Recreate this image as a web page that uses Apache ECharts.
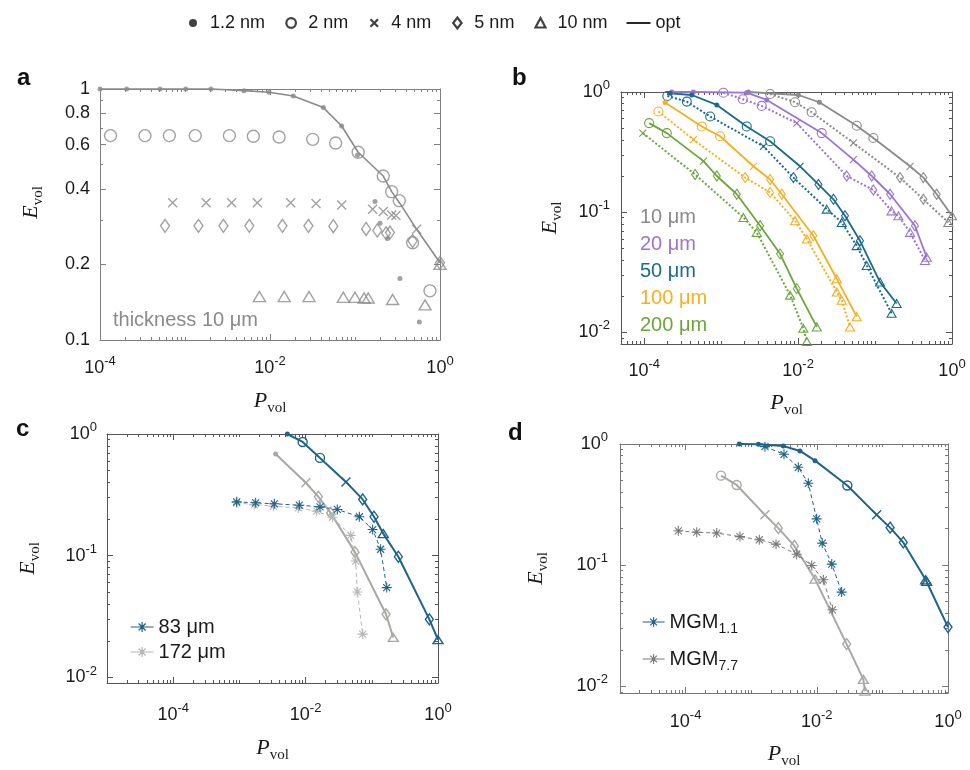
<!DOCTYPE html>
<html><head><meta charset="utf-8">
<script src="https://cdn.jsdelivr.net/npm/echarts@6/dist/echarts.min.js"></script>
<style>html,body{margin:0;padding:0;background:#fff}#c{width:970px;height:770px}</style>
</head><body><div id="c"></div>
<script>
// ---------- tick labels ----------
const aXTicks = [1e-4, 1e-2, 1];
const aYTicks = [0.1, 0.2, 0.4, 0.6, 0.8, 1];
const bXTicks = [1e-4, 1e-2, 1];
const bYTicks = [0.01, 0.1, 1];
const cdXTicks = [1e-4, 1e-2, 1];
const cdYTicks = [0.01, 0.1, 1];

// ---------- panel a (thickness 10 um) ----------
const a12X = [1e-4, 2.06e-4, 5.08e-4, 1.02e-3, 2.02e-3, 4.94e-3, 9.73e-3, 0.0188, 0.0424, 0.0697, 0.107, 0.172, 0.197, 0.242, 0.338, 0.571];
const a12Y = [1, 1, 1, 1, 1, 0.985, 0.97, 0.938, 0.843, 0.712, 0.546, 0.356, 0.292, 0.254, 0.176, 0.118];
const a2X = [1.33e-4, 3.38e-4, 6.55e-4, 1.32e-3, 3.33e-3, 6.37e-3, 0.0128, 0.0318, 0.0592, 0.109, 0.215, 0.27, 0.332, 0.476, 0.762];
const a2Y = [0.652, 0.652, 0.652, 0.652, 0.652, 0.648, 0.644, 0.630, 0.609, 0.560, 0.45, 0.39, 0.359, 0.244, 0.157];
const a4X = [7.16e-4, 1.77e-3, 3.54e-3, 7.1e-3, 0.0175, 0.0348, 0.0697, 0.161, 0.215, 0.27, 0.303, 0.531];
const a4Y = [0.352, 0.352, 0.352, 0.352, 0.352, 0.35, 0.345, 0.332, 0.325, 0.315, 0.313, 0.276];
const a5X = [5.82e-4, 1.44e-3, 2.83e-3, 5.71e-3, 0.014, 0.0283, 0.0556, 0.135, 0.183, 0.232, 0.258, 0.476, 1];
const a5Y = [0.285, 0.285, 0.285, 0.285, 0.285, 0.285, 0.284, 0.277, 0.273, 0.266, 0.268, 0.248, 0.203];
const a10X = [7.5e-3, 0.0147, 0.0288, 0.0729, 0.1, 0.128, 0.143, 0.277, 0.667, 1];
const a10Y = [0.149, 0.149, 0.149, 0.148, 0.148, 0.147, 0.147, 0.145, 0.138, 0.2];
const aOptX = [1e-4, 2.02e-3, 4.94e-3, 9.73e-3, 0.0188, 0.0424, 0.0697, 0.109, 0.215, 0.27, 0.338, 0.531, 1];
const aOptY = [1, 1, 0.985, 0.97, 0.938, 0.843, 0.712, 0.56, 0.45, 0.39, 0.35, 0.276, 0.203];

// ---------- panel b (pore-size code per point: 1.2, 2, 4, 5, 10 nm) ----------
const bThick = ['10 μm', '20 μm', '50 μm', '100 μm', '200 μm'];
const b10OptX = [2.26e-3, 0.0101, 0.0189, 0.0578, 0.0951, 0.285, 0.425, 0.632, 1];
const b10OptY = [1, 0.944, 0.822, 0.524, 0.414, 0.241, 0.194, 0.141, 0.0933];
const b10OptP = [1.2, 1.2, 1.2, 2, 2, 4, 5, 5, 10];
const b10DotX = [4.33e-3, 9.14e-3, 0.015, 0.0523, 0.211, 0.425, 0.895];
const b10DotY = [0.963, 0.822, 0.679, 0.377, 0.194, 0.128, 0.0822];
const b10DotP = [2, 2, 2, 4, 5, 5, 10];
const b20OptX = [2.29e-4, 4.37e-4, 2.15e-3, 3.92e-3, 0.0203, 0.0523, 0.0906, 0.157, 0.33, 0.469];
const b20OptY = [1, 1, 0.987, 0.859, 0.455, 0.274, 0.2, 0.141, 0.0771, 0.0422];
const b20OptP = [1.2, 1.2, 1.2, 1.2, 2, 4, 5, 5, 5, 10];
const b20DotX = [1.07e-3, 1.91e-3, 3.37e-3, 9.61e-3, 0.0428, 0.0951, 0.164, 0.201, 0.285, 0.446];
const b20DotY = [0.987, 0.87, 0.766, 0.551, 0.2, 0.153, 0.1025, 0.0933, 0.0679, 0.0396];
const b20DotP = [2, 2, 2, 4, 5, 5, 10, 10, 10, 10];
const b50OptX = [2.18e-4, 4.16e-4, 8.79e-4, 2.15e-3, 4.33e-3, 0.0106, 0.0184, 0.0288, 0.0407, 0.0638, 0.116, 0.191];
const b50OptY = [0.975, 0.944, 0.781, 0.517, 0.389, 0.241, 0.17, 0.128, 0.0933, 0.0578, 0.0262, 0.0174];
const b50OptP = [1.2, 1.2, 1.2, 2, 2, 4, 5, 5, 5, 5, 10, 10];
const b50DotX = [2.0e-4, 3.58e-4, 7.2e-4, 3.55e-3, 8.69e-3, 0.0236, 0.0369, 0.0578, 0.078, 0.164];
const b50DotY = [0.927, 0.832, 0.625, 0.353, 0.194, 0.106, 0.0822, 0.0527, 0.036, 0.0144];
const b50DotP = [2, 2, 2, 4, 5, 10, 10, 10, 10, 10];
const b100OptX = [1.87e-4, 5.61e-4, 9.7e-4, 2.63e-3, 4.33e-3, 6.14e-3, 0.0158, 0.0318, 0.0578];
const b100OptY = [0.816, 0.517, 0.428, 0.241, 0.187, 0.141, 0.0637, 0.0279, 0.0135];
const b100OptP = [1.2, 2, 2, 4, 5, 5, 5, 10, 10];
const b100DotX = [1.53e-4, 4.37e-4, 2.05e-3, 4.33e-3, 9.14e-3, 0.013, 0.0318, 0.0369, 0.0473];
const b100DotY = [0.688, 0.401, 0.194, 0.146, 0.0848, 0.0598, 0.0217, 0.0185, 0.0111];
const b100DotP = [2, 4, 5, 5, 10, 10, 10, 10, 10];
const b200OptX = [1.16e-4, 1.97e-4, 5.9e-4, 8.79e-4, 1.6e-3, 3.21e-3, 5.83e-3, 9.61e-3, 0.0175];
const b200OptY = [0.551, 0.455, 0.266, 0.2, 0.141, 0.0771, 0.045, 0.0231, 0.0111];
const b200OptP = [2, 2, 4, 5, 5, 5, 5, 5, 10];
const b200DotX = [9.6e-5, 4.59e-4, 1.95e-3, 2.9e-3, 7.87e-3, 0.0117, 0.013];
const b200DotY = [0.455, 0.206, 0.0903, 0.0679, 0.0204, 0.0108, 0.0084];
const b200DotP = [4, 5, 10, 10, 10, 10, 10];

// ---------- panel c ----------
const cTealOptX = [5.3e-3, 9.03e-3, 0.0165, 0.0407, 0.0728, 0.108, 0.149, 0.252, 0.740, 1];
const cTealOptY = [1, 0.86, 0.636, 0.404, 0.29, 0.209, 0.152, 0.098, 0.030, 0.0204];
const cTealOptP = [1.2, 2, 2, 4, 5, 5, 10, 5, 5, 10];
const cTealStarX = [9.1e-4, 1.76e-3, 3.37e-3, 8.03e-3, 0.0165, 0.0301, 0.0649, 0.103, 0.136, 0.168];
const cTealStarY = [0.277, 0.272, 0.267, 0.26, 0.252, 0.24, 0.209, 0.164, 0.113, 0.0547];
const cGrayOptX = [3.53e-3, 0.0101, 0.0156, 0.0239, 0.0557, 0.164, 0.211];
const cGrayOptY = [0.686, 0.397, 0.305, 0.225, 0.107, 0.033, 0.0213];
const cGrayOptP = [1.2, 4, 5, 5, 5, 5, 10];
const cGrayStarX = [9.1e-4, 1.68e-3, 3.26e-3, 7.76e-3, 0.0147, 0.0254, 0.048, 0.057, 0.0604, 0.0728];
const cGrayStarY = [0.272, 0.263, 0.255, 0.247, 0.232, 0.207, 0.147, 0.0904, 0.0504, 0.0227];

// ---------- panel d ----------
const dTealOptX = [6.59e-4, 1.29e-3, 3.09e-3, 5.54e-3, 9.4e-3, 0.0292, 0.0818, 0.131, 0.208, 0.457, 0.473, 1];
const dTealOptY = [1, 0.994, 0.963, 0.876, 0.729, 0.454, 0.26, 0.204, 0.154, 0.0757, 0.0733, 0.0308];
const dTealOptP = [1.2, 1.2, 1.2, 1.2, 1.2, 2, 4, 5, 5, 10, 10, 5];
const dTealStarX = [1.62e-3, 3.16e-3, 5.22e-3, 7.43e-3, 9.95e-3, 0.0121, 0.0169, 0.0239];
const dTealStarY = [0.951, 0.822, 0.642, 0.474, 0.241, 0.152, 0.102, 0.0599];
const dGrayOptX = [3.47e-4, 6.0e-4, 1.62e-3, 2.59e-3, 4.55e-3, 9.4e-3, 0.0285, 0.0512, 0.0543];
const dGrayOptY = [0.548, 0.459, 0.26, 0.202, 0.144, 0.0767, 0.0223, 0.0114, 0.0091];
const dGrayOptP = [2, 2, 4, 5, 5, 10, 5, 10, 10];
const dGrayStarX = [7.74e-5, 1.48e-4, 2.98e-4, 6.74e-4, 1.33e-3, 2.39e-3, 4.93e-3, 8.36e-3, 0.0126, 0.0173];
const dGrayStarY = [0.192, 0.187, 0.184, 0.172, 0.162, 0.149, 0.123, 0.0994, 0.0757, 0.0428];

// ---------- styling ----------
const SANS = '"Liberation Sans", Arial, Helvetica, sans-serif';
const SERIF = '"Liberation Serif", "DejaVu Serif", "Times New Roman", serif';
const TXT = '#1a1a1a';
const COL = {gray:'#8a8a8a', purple:'#9a74d2', teal:'#1a6a8c', orange:'#f4b022', green:'#6ba53c',
  cTeal:'#1d6488', cGray:'#aaa8a4', cStar:'#b5b5b5', dStar:'#7a7a7a'};
const bColors = [COL.gray, COL.purple, COL.teal, COL.orange, COL.green];
const CROSS = 'path://M0,0L10,10M10,0L0,10';
const STAR = 'path://M5,0L5,10M0,5L10,5M1.5,1.5L8.5,8.5M8.5,1.5L1.5,8.5';
const STAR_LINE = 'path://M0,5L23,5M11.5,0L11.5,10M6.5,5L16.5,5M8,1.5L15,8.5M15,1.5L8,8.5';
const NONE = 'rgba(0,0,0,0)';

const SA = {dot:5, circ:12, cross:9, dia:[9,13], tri:[12,10], star:10, bw:1.4};
const SB = {dot:5, circ:9, cross:7, dia:[7,10], tri:[9,8], star:9, bw:1.1};
const SC = {dot:5, circ:9, cross:9, dia:[8,11], tri:[10,8], star:10, bw:1.4};

function marker(code, color, S) {
  const hollow = {color: NONE, borderColor: color, borderWidth: S.bw};
  if (code === 1.2) return {symbol:'circle', symbolSize:S.dot, itemStyle:{color, borderWidth:0}};
  if (code === 2) return {symbol:'circle', symbolSize:S.circ, itemStyle:hollow};
  if (code === 4) return {symbol:CROSS, symbolSize:S.cross, itemStyle:hollow};
  if (code === 5) return {symbol:'diamond', symbolSize:S.dia, itemStyle:hollow};
  if (code === 10) return {symbol:'triangle', symbolSize:S.tri, itemStyle:hollow};
  return {symbol:STAR, symbolSize:S.star, itemStyle:{color:NONE, borderColor:color, borderWidth:1.1}};
}
function pts(xs, ys, codes, color, S) {
  return xs.map((x, i) => Object.assign({value:[x, ys[i]]},
    marker(Array.isArray(codes) ? codes[i] : codes, color, S)));
}

function minorTicks(min, max, major) {
  const out = [];
  for (let e = Math.floor(Math.log10(min)); e <= Math.ceil(Math.log10(max)); e++) {
    for (let k = 1; k <= 9; k++) {
      const v = +(k * Math.pow(10, e)).toPrecision(3);
      if (v > min * 1.0001 && v < max * 0.9999 && major.every(m => Math.abs(m - v) > v * 1e-6)) out.push(v);
    }
  }
  return out;
}
const RICH_POW = {
  b:{fontFamily:SANS, fontSize:18, lineHeight:26, color:TXT},
  s:{fontFamily:SANS, fontSize:13, lineHeight:13, padding:[0,0,13,0], color:TXT}
};
const RICH_NAME = {
  P:{fontFamily:SERIF, fontStyle:'italic', fontSize:22, lineHeight:26, color:TXT},
  v:{fontFamily:SERIF, fontSize:15, lineHeight:15, padding:[15,0,0,0], color:TXT}
};
function powLabel(v) { return '{b|10}{s|' + Math.round(Math.log10(v)) + '}'; }
function numLabel(v) { return String(+(+v).toPrecision(2)); }

function buildAxes(dim, gridIndex, min, max, major, cfg) {
  const minor = minorTicks(min, max, major);
  const pos = dim === 'x' ? ['bottom', 'top'] : ['left', 'right'];
  const lc = cfg.color;
  const common = {type:'log', logBase:10, gridIndex, min, max, splitLine:{show:false},
    minorTick:{show:false}, minorSplitLine:{show:false}, silent:true};
  const line = {show:true, onZero:false, lineStyle:{color:lc, width:1}};
  const noLine = {show:false, onZero:false};
  const majTick = {show:true, inside:true, length:6, customValues:major, lineStyle:{color:lc, width:1}};
  const minTick = {show:true, inside:true, length:3, customValues:minor, lineStyle:{color:lc, width:1}};
  const off = {show:false};
  return [
    Object.assign({}, common, {position:pos[0], axisLine:line, axisTick:majTick,
      axisLabel:{show:true, customValues:major, margin:cfg.margin, formatter:cfg.fmt, rich:RICH_POW,
        fontFamily:SANS, fontSize:18, color:TXT},
      name:cfg.name, nameLocation:'middle', nameGap:cfg.nameGap, nameRotate: dim === 'y' ? 90 : 0,
      nameTextStyle:{rich:RICH_NAME, padding: cfg.namePad || 0}}),
    Object.assign({}, common, {position:pos[0], axisLine:noLine, axisTick:minTick, axisLabel:off}),
    Object.assign({}, common, {position:pos[1], axisLine:line, axisTick:majTick, axisLabel:off}),
    Object.assign({}, common, {position:pos[1], axisLine:noLine, axisTick:minTick, axisLabel:off})
  ];
}
const XN = '{P|P}{v|vol}', YN = '{P|E}{v|vol}';
const xAxes = [].concat(
  buildAxes('x', 0, 1e-4, 1, aXTicks, {color:'#7f7f7f', margin:15, fmt:powLabel, name:XN, nameGap:48}),
  buildAxes('x', 1, 5e-5, 1, bXTicks, {color:'#555', margin:14, fmt:powLabel, name:XN, nameGap:46}),
  buildAxes('x', 2, 1e-5, 1, cdXTicks, {color:'#555', margin:19, fmt:powLabel, name:XN, nameGap:52}),
  buildAxes('x', 3, 1e-5, 1, cdXTicks, {color:'#777', margin:16, fmt:powLabel, name:XN, nameGap:48})
);
const yAxes = [].concat(
  buildAxes('y', 0, 0.1, 1, aYTicks, {color:'#7f7f7f', margin:10, fmt:numLabel, name:YN, nameGap:56, namePad:[0,0,0,24]}),
  buildAxes('y', 1, 0.008, 1, bYTicks, {color:'#555', margin:11, fmt:powLabel, name:YN, nameGap:58}),
  buildAxes('y', 2, 0.009, 1, cdYTicks, {color:'#555', margin:10, fmt:powLabel, name:YN, nameGap:66}),
  buildAxes('y', 3, 0.0088, 1, cdYTicks, {color:'#777', margin:12, fmt:powLabel, name:YN, nameGap:71})
);

const series = [];
function scat(name, p, xs, ys, code, color, S) {
  series.push({name, type:'scatter', xAxisIndex:p*4, yAxisIndex:p*4, data:pts(xs, ys, code, color, S),
    itemStyle:{color:NONE, borderColor:color}, emphasis:{disabled:true}, clip:false, z:4});
}
function line(name, p, xs, ys, codes, color, S, ls, opts) {
  series.push(Object.assign({name, type:'line', xAxisIndex:p*4, yAxisIndex:p*4,
    data:pts(xs, ys, codes, color, S), showSymbol:true, clip:false,
    lineStyle:Object.assign({color, width:1.8}, ls), emphasis:{disabled:true}, z:3}, opts || {}));
}
// panel a
line('opt', 0, aOptX, aOptY, 1.2, COL.gray, {dot:0}, {width:1.6}, {showSymbol:false, symbol:'none', itemStyle:{color:COL.gray}});
scat('1.2 nm', 0, a12X, a12Y, 1.2, COL.gray, SA);
scat('2 nm', 0, a2X, a2Y, 2, COL.gray, SA);
scat('4 nm', 0, a4X, a4Y, 4, COL.gray, SA);
scat('5 nm', 0, a5X, a5Y, 5, COL.gray, SA);
scat('10 nm', 0, a10X, a10Y, 10, COL.gray, SA);
// panel b
const bOpt = [[b10OptX,b10OptY,b10OptP],[b20OptX,b20OptY,b20OptP],[b50OptX,b50OptY,b50OptP],[b100OptX,b100OptY,b100OptP],[b200OptX,b200OptY,b200OptP]];
const bDot = [[b10DotX,b10DotY,b10DotP],[b20DotX,b20DotY,b20DotP],[b50DotX,b50DotY,b50DotP],[b100DotX,b100DotY,b100DotP],[b200DotX,b200DotY,b200DotP]];
bThick.forEach((t, i) => {
  line('b ' + t + ' data', 1, bDot[i][0], bDot[i][1], bDot[i][2], bColors[i], SB, {type:'dotted', width:2});
  line('b ' + t + ' opt', 1, bOpt[i][0], bOpt[i][1], bOpt[i][2], bColors[i], SB, {width:1.8});
});
// panel c
line('c 172 opt', 2, cGrayOptX, cGrayOptY, cGrayOptP, COL.cGray, SC, {width:2});
line('172 μm', 2, cGrayStarX, cGrayStarY, 'star', COL.cStar, SC, {width:1, type:[4,3]});
line('c 83 opt', 2, cTealOptX, cTealOptY, cTealOptP, COL.cTeal, SC, {width:2});
line('83 μm', 2, cTealStarX, cTealStarY, 'star', COL.cTeal, SC, {width:1, type:[4,3]});
// panel d
line('d gray opt', 3, dGrayOptX, dGrayOptY, dGrayOptP, COL.cGray, SC, {width:2});
line('MGM7.7', 3, dGrayStarX, dGrayStarY, 'star', COL.dStar, SC, {width:1, type:[4,3]});
line('d teal opt', 3, dTealOptX, dTealOptY, dTealOptP, COL.cTeal, SC, {width:2});
line('MGM1.1', 3, dTealStarX, dTealStarY, 'star', COL.cTeal, SC, {width:1, type:[4,3]});

const hollowK = {color:NONE, borderColor:'#111', borderWidth:2.2};
function starItem(name, color) {
  return {name, icon:STAR_LINE, itemStyle:{color:NONE, borderColor:color, borderWidth:1.2}};
}
const option = {
  animation:false,
  backgroundColor:'#fff',
  textStyle:{fontFamily:SANS},
  grid:[
    {left:100, top:89, width:340, height:251},
    {left:621, top:92, width:331, height:252},
    {left:107, top:434, width:331, height:249},
    {left:620, top:444, width:328, height:250}
  ],
  xAxis:xAxes,
  yAxis:yAxes,
  legend:[
    {left:182, top:9, itemWidth:24, itemHeight:12, itemGap:19, selectedMode:false,
     textStyle:{fontFamily:SANS, fontSize:18, color:TXT},
     data:[
      {name:'1.2 nm', icon:'path://M0,0M12,12M2,6a4,4 0 1,0 8,0a4,4 0 1,0 -8,0z', itemStyle:{color:'#111', borderWidth:0}},
      {name:'2 nm', icon:'path://M0,0M12,12M1.2,6a4.8,4.8 0 1,0 9.6,0a4.8,4.8 0 1,0 -9.6,0z', itemStyle:hollowK},
      {name:'4 nm', icon:'path://M0,0M12,12M2.2,2.2L9.8,9.8M9.8,2.2L2.2,9.8', itemStyle:hollowK},
      {name:'5 nm', icon:'path://M0,0M12,12M6,0.5L10.2,6L6,11.5L1.8,6Z', itemStyle:hollowK},
      {name:'10 nm', icon:'path://M0,0M12,12M6,1L11,10.5L1,10.5Z', itemStyle:hollowK},
      {name:'opt', icon:'path://M0,0M24,12M0,5.1L24,5.1L24,6.9L0,6.9Z', itemStyle:{color:'#111', borderWidth:0}}
     ]},
    {left:125, top:612, orient:'vertical', itemWidth:23, itemHeight:10, itemGap:5, selectedMode:false,
     textStyle:{fontFamily:SANS, fontSize:20, color:TXT},
     data:[starItem('83 μm', COL.cTeal), starItem('172 μm', COL.cStar)]},
    {left:637, top:603, orient:'vertical', itemWidth:22, itemHeight:10, itemGap:9, selectedMode:false,
     textStyle:{fontFamily:SANS, fontSize:20, color:TXT,
       rich:{s:{fontFamily:SANS, fontSize:14, lineHeight:14, padding:[14,0,0,0], color:TXT}}},
     formatter: n => 'MGM{s|' + n.slice(3) + '}',
     data:[starItem('MGM1.1', COL.cTeal), starItem('MGM7.7', COL.dStar)]}
  ],
  graphic:[
    {type:'text', x:17, y:66, style:{text:'a', fontFamily:SANS, fontWeight:'bold', fontSize:24, fill:'#111'}},
    {type:'text', x:512, y:66, style:{text:'b', fontFamily:SANS, fontWeight:'bold', fontSize:24, fill:'#111'}},
    {type:'text', x:16, y:417, style:{text:'c', fontFamily:SANS, fontWeight:'bold', fontSize:24, fill:'#111'}},
    {type:'text', x:508, y:421, style:{text:'d', fontFamily:SANS, fontWeight:'bold', fontSize:24, fill:'#111'}},
    {type:'text', x:113, y:320, style:{text:'thickness 10 μm', fontFamily:SANS, fontSize:20, fill:COL.gray, verticalAlign:'middle'}}
  ].concat(bThick.map((t, i) => ({type:'text', x:640, y:217 + i * 27,
      style:{text:t, fontFamily:SANS, fontSize:20, fill:bColors[i], verticalAlign:'middle'}}))),
  series
};
const chart = echarts.init(document.getElementById('c'), null, {renderer:'canvas'});
chart.setOption(option);
</script></body></html>
